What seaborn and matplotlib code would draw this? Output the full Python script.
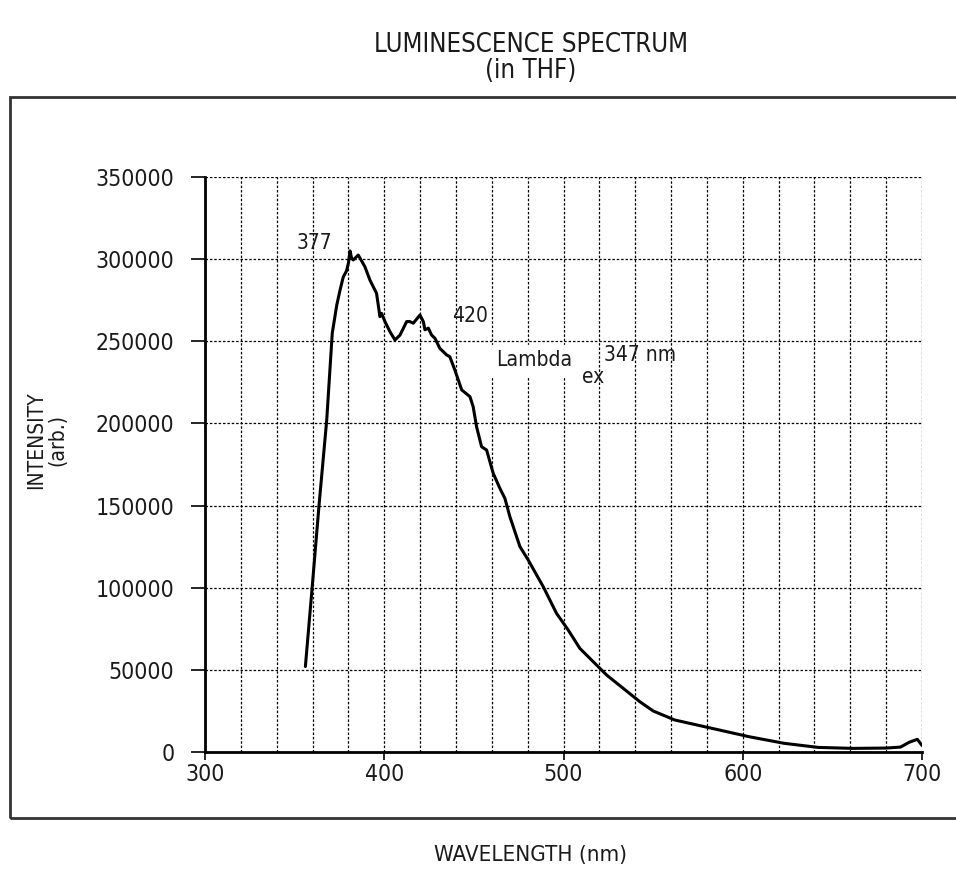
import matplotlib
matplotlib.use("Agg")
import matplotlib.pyplot as plt
import seaborn as sns
import pandas as pd
from matplotlib.patches import Rectangle
from matplotlib.ticker import MultipleLocator

# ---- data ----
wavelength = [356, 360, 363.6, 367.9, 371, 373.5, 375.3, 377.1, 379, 380, 380.9, 381.8,
              382.7, 385.5, 389.2, 392, 395.7, 397.6, 398.5, 400.4, 403.2, 406,
              408.8, 412.5, 414.3, 416.2, 419.9, 421.8, 422.7, 424.6, 426.4,
              428.3, 431, 434.8, 436.6, 439.4, 443.2, 447.8, 449.6, 451.5, 454.3,
              457.1, 460.8, 464.5, 467.3, 470.1, 475.7, 480.3, 488.7, 496.1, 502.6,
              509.1, 524, 542.6, 550, 562, 582.8, 603.6, 623, 642, 661.4, 680, 688,
              693, 697.4, 700]
intensity = [52000, 103000, 150000, 202000, 255000, 272000, 281000, 289000, 293000,
             297500, 305000, 300500, 299500, 302500, 295400, 287300, 279200, 265000,
             267000, 262000, 255800, 250800, 253800, 262000, 262000, 261000, 266000,
             262000, 257000, 258000, 253800, 251800, 245700, 241700, 240600, 232500,
             220400, 216300, 210200, 198000, 185800, 183800, 169600, 160500, 154400,
             143200, 125000, 116900, 100600, 84400, 74300, 63100, 46900, 30600, 25000,
             19500, 14400, 9300, 5300, 2800, 2200, 2400, 3000, 6000, 7700, 4000]

x_ticks = [300, 400, 500, 600, 700]
y_ticks = [0, 50000, 100000, 150000, 200000, 250000, 300000, 350000]

title_lines = ["LUMINESCENCE SPECTRUM", "(in THF)"]
x_label = "WAVELENGTH (nm)"
y_label = "INTENSITY\n(arb.)"

sns.set_theme(style="white")
plt.rcParams['font.family'] = ['DejaVu Sans']
plt.rcParams['font.stretch'] = 'condensed'

TXT = "#1a1a1a"

fig = plt.figure(figsize=(9.56, 8.76), dpi=100)
ax = fig.add_axes([205/956, 1-752/876, (922-205)/956, (752-177)/876])

df = pd.DataFrame({"wavelength": wavelength, "intensity": intensity})
sns.lineplot(data=df, x="wavelength", y="intensity", ax=ax, color="black",
             linewidth=2.2, sort=False)

ax.set_xlim(300, 700)
ax.set_ylim(0, 350000)
ax.set_xticks(x_ticks)
ax.set_yticks(y_ticks)
ax.set_xticklabels([str(t) for t in x_ticks])
ax.set_yticklabels([str(t) for t in y_ticks])
ax.xaxis.set_minor_locator(MultipleLocator(20))

grid_kw = dict(color="black", linestyle=(0, (2.0, 1.5)), linewidth=0.9)
ax.grid(True, which="minor", axis="x", **grid_kw)
ax.grid(True, which="major", axis="x", **grid_kw)
ax.grid(True, which="major", axis="y", **grid_kw)
ax.set_axisbelow(True)

for side in ["top", "right"]:
    ax.spines[side].set_visible(False)
for side in ["left", "bottom"]:
    ax.spines[side].set_color("black")
    ax.spines[side].set_linewidth(2.0)

ax.tick_params(axis="y", which="major", direction="out", length=10, width=1.2,
               color="black", pad=12, labelsize=16.5, labelcolor=TXT, left=True)
ax.tick_params(axis="x", which="major", direction="out", length=6, width=1.2,
               color="black", pad=2, labelsize=16.5, labelcolor=TXT, bottom=True)
ax.tick_params(axis="x", which="minor", length=0)

ax.set_xlabel("")
ax.set_ylabel("")

# annotations
ax.text(361.3, 310000, "377", fontsize=15, ha="center", va="center", color=TXT)
ax.text(447.8, 265500, "420", fontsize=15, ha="center", va="center", color=TXT)
ax.text(462.5, 238500, "Lambda", fontsize=15, ha="left", va="center", color=TXT,
        backgroundcolor="white")
ax.text(510.5, 228000, "ex", fontsize=15, ha="left", va="center", color=TXT)
ax.text(522.5, 241500, "347 nm", fontsize=15, ha="left", va="center", color=TXT)

# figure-level texts
fig.text(531/956, 1-45/876, title_lines[0], fontsize=18.5, ha="center", va="center",
         color=TXT)
fig.text(531/956, 1-71/876, title_lines[1], fontsize=18.5, ha="center", va="center",
         color=TXT)
fig.text(530/956, 1-855/876, x_label, fontsize=16, ha="center", va="center",
         color=TXT)
fig.text(47/956, 1-440/876, y_label, fontsize=15, ha="center", va="center",
         rotation=90, color=TXT, linespacing=1.1)

# outer border box
fig.patches.append(Rectangle((10/956, 1-818/876), 960/956, (818-97)/876,
                             transform=fig.transFigure, fill=False,
                             edgecolor="#333333", linewidth=2.0))

fig.savefig("out.png", dpi=100)
